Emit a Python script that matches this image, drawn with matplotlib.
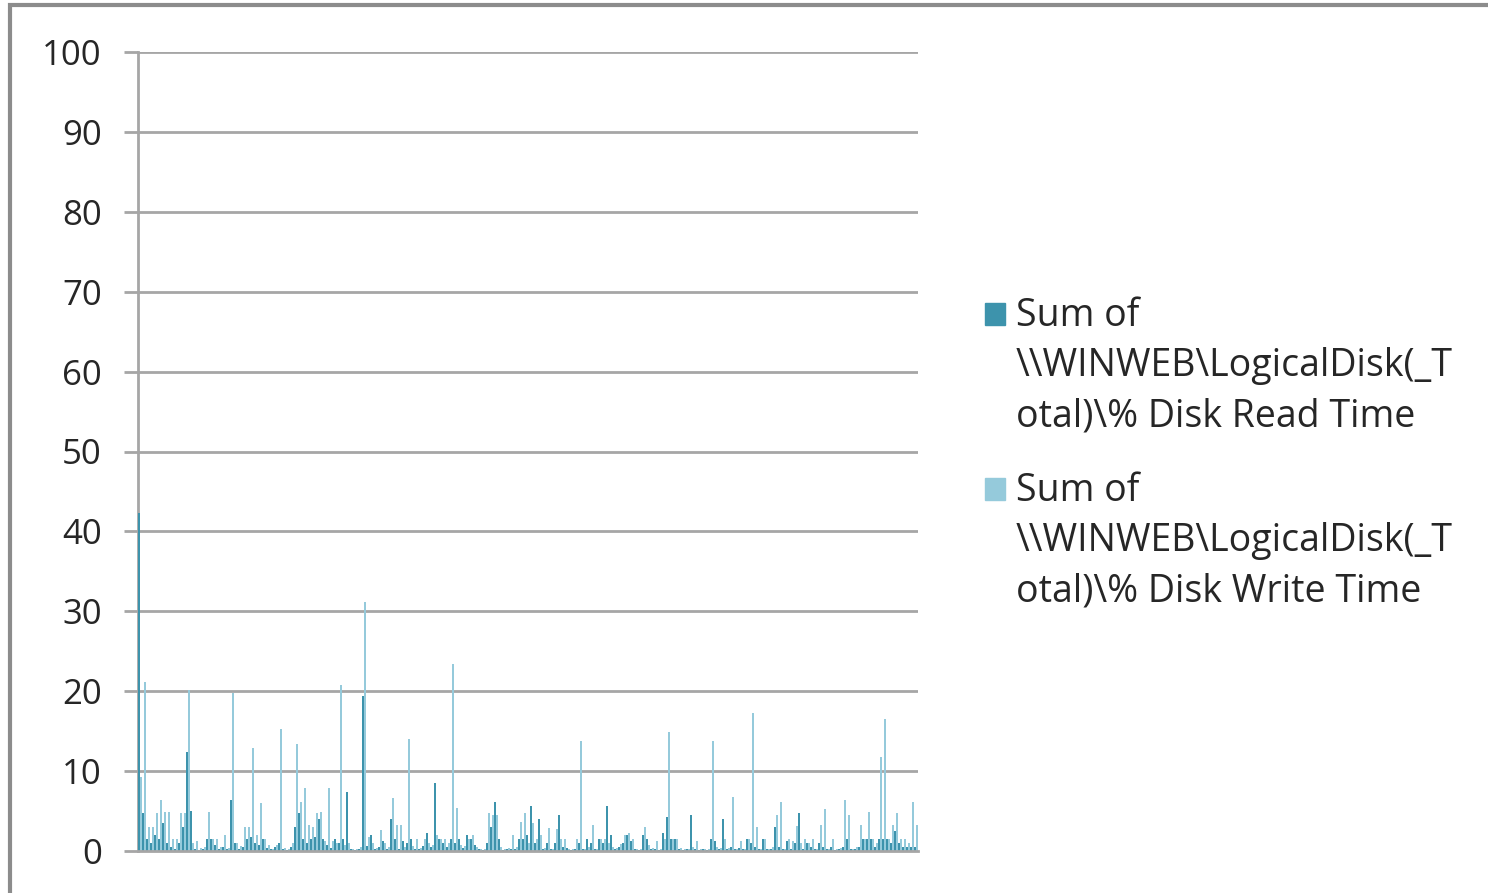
import numpy as np
import matplotlib
matplotlib.use("Agg")
import matplotlib.pyplot as plt
from matplotlib.patches import Rectangle

# % Disk Read Time / % Disk Write Time per sample
read_time = [
    42.3, 4.7, 1.5, 1.0, 2.0, 1.5, 3.5, 1.0, 0.5, 0.3,
    1.0, 3.0, 12.4, 5.0, 0.3, 0.0, 0.2, 1.5, 1.5, 0.8,
    0.3, 0.5, 0.2, 6.4, 1.0, 0.3, 0.5, 1.5, 1.8, 1.0,
    0.8, 1.5, 0.4, 0.2, 0.5, 1.0, 0.2, 0.1, 0.5, 3.0,
    4.7, 1.5, 1.0, 1.5, 1.7, 4.0, 1.5, 0.8, 0.4, 1.5,
    1.0, 1.5, 7.4, 0.2, 0.1, 0.3, 19.4, 0.6, 2.0, 0.2,
    0.5, 1.3, 0.3, 4.0, 1.5, 0.2, 1.3, 1.0, 1.5, 0.3,
    0.2, 0.6, 2.3, 0.5, 8.5, 1.5, 1.0, 0.5, 1.5, 1.0,
    1.5, 0.4, 2.0, 1.5, 0.8, 0.2, 0.1, 1.0, 3.0, 6.1,
    1.5, 0.1, 0.3, 0.3, 0.2, 1.5, 1.5, 2.0, 5.6, 1.0,
    4.0, 0.3, 1.0, 0.2, 1.0, 4.5, 0.5, 0.4, 0.1, 0.3,
    1.0, 0.3, 1.5, 1.0, 0.2, 1.5, 1.0, 5.6, 2.0, 0.3,
    0.5, 1.0, 2.0, 1.2, 0.2, 0.1, 2.0, 1.5, 0.3, 0.2,
    0.1, 2.3, 4.3, 1.5, 1.5, 0.3, 0.1, 0.3, 4.5, 0.2,
    0.1, 0.2, 0.1, 1.5, 1.2, 0.3, 4.0, 0.3, 0.5, 0.2,
    0.4, 0.2, 1.5, 1.0, 0.5, 0.2, 1.5, 0.2, 0.3, 3.0,
    0.5, 0.2, 1.3, 0.3, 1.0, 4.7, 0.3, 1.0, 0.5, 0.2,
    1.0, 0.5, 0.2, 0.5, 0.1, 0.3, 0.5, 1.5, 0.2, 0.3,
    0.5, 1.5, 1.5, 1.5, 0.5, 1.5, 1.5, 1.5, 1.0, 2.5,
    1.0, 0.5, 0.5, 0.5, 0.5,
]
write_time = [
    9.3, 21.2, 3.0, 3.0, 4.7, 6.4, 4.9, 4.9, 1.5, 1.5,
    4.7, 4.7, 20.1, 1.0, 1.2, 0.4, 0.5, 4.9, 1.5, 1.5,
    0.5, 2.0, 0.4, 19.8, 1.0, 0.6, 3.0, 3.0, 12.9, 2.0,
    6.0, 1.5, 0.8, 0.3, 0.8, 15.3, 0.4, 0.3, 1.0, 13.4,
    6.1, 7.9, 3.3, 3.0, 4.7, 4.9, 1.2, 7.9, 1.2, 1.0,
    20.8, 0.8, 1.0, 0.3, 0.2, 0.5, 31.2, 1.7, 1.0, 0.4,
    2.6, 1.0, 0.5, 6.6, 3.3, 3.3, 0.5, 14.0, 0.6, 1.5,
    0.4, 1.5, 1.0, 0.8, 2.0, 1.5, 1.5, 1.0, 23.4, 5.4,
    0.8, 0.6, 1.5, 2.0, 0.5, 0.3, 0.2, 4.7, 4.5, 4.5,
    0.5, 0.2, 0.4, 2.0, 0.5, 3.6, 4.7, 1.0, 3.5, 1.5,
    2.0, 0.4, 2.9, 0.3, 2.8, 1.5, 1.5, 0.3, 0.2, 1.5,
    13.8, 0.3, 0.5, 3.3, 0.3, 1.5, 1.5, 1.0, 0.5, 0.4,
    0.9, 2.0, 2.3, 1.5, 0.3, 0.2, 3.0, 0.8, 0.4, 1.3,
    0.2, 1.5, 14.9, 1.5, 1.5, 0.4, 0.2, 0.3, 0.5, 1.3,
    0.2, 0.3, 0.2, 13.8, 0.5, 0.4, 1.5, 0.4, 6.7, 0.3,
    1.3, 0.3, 1.5, 17.3, 3.0, 0.3, 1.5, 0.3, 0.5, 4.5,
    6.1, 0.3, 1.5, 1.2, 3.1, 1.0, 1.5, 1.0, 1.5, 0.3,
    3.3, 5.2, 0.3, 1.5, 0.2, 0.4, 6.4, 4.5, 0.3, 0.5,
    3.3, 1.5, 4.9, 1.5, 1.0, 11.8, 16.5, 1.5, 3.3, 4.7,
    1.5, 1.5, 1.0, 6.1, 3.3,
]
yticks = [0, 10, 20, 30, 40, 50, 60, 70, 80, 90, 100]
legend_labels = [
    "Sum of\n\\\\WINWEB\\LogicalDisk(_T\notal)\\% Disk Read Time",
    "Sum of\n\\\\WINWEB\\LogicalDisk(_T\notal)\\% Disk Write Time",
]

READ_C = "#3d93ac"
WRITE_C = "#95cadb"
GRID_C = "#a6a6a6"

plt.rcParams["font.family"] = ["Open Sans", "DejaVu Sans"]

W, H = 1488, 893
fig = plt.figure(figsize=(W / 100, H / 100), dpi=100)
ax = fig.add_axes([138 / W, 1 - 851 / H, (918 - 138) / W, (851 - 52) / H])

x = np.arange(len(read_time))
ax.bar(x - 0.2, read_time, width=0.4, color=READ_C, lw=0, zorder=3)
ax.bar(x + 0.2, write_time, width=0.4, color=WRITE_C, lw=0, zorder=2)

ax.set_xlim(-0.5, len(read_time) - 0.5)
ax.set_ylim(0, 100)
ax.set_yticks(yticks)
ax.set_xticks([])
ax.grid(axis="y", color=GRID_C, lw=2, zorder=0)
ax.tick_params(axis="y", length=10, width=2, color=GRID_C, pad=16,
               labelsize=25, labelcolor="#262626")
for s in ("top", "right"):
    ax.spines[s].set_visible(False)
for s in ("left", "bottom"):
    ax.spines[s].set_color(GRID_C)
    ax.spines[s].set_linewidth(2)
ax.spines["bottom"].set_zorder(4)

# legend drawn by hand so the swatch sits on the first text line
for (ytop, lab, c) in [(303, legend_labels[0], READ_C), (478, legend_labels[1], WRITE_C)]:
    fig.patches.append(Rectangle((985 / W, 1 - (ytop + 22) / H), 20 / W, 22 / H,
                                 transform=fig.transFigure, color=c))
    fig.text(1016 / W, 1 - (ytop - 6) / H, lab, fontsize=27, va="top", ha="left",
             color="#262626", linespacing=1.42)

# outer chart frame
fig.patches.append(Rectangle((10 / W, -0.05), 1.1, 1 - 5 / H + 0.05,
                             transform=fig.transFigure, fill=False,
                             ec="#8c8c8c", lw=3))

fig.savefig("out.png", dpi=100)
